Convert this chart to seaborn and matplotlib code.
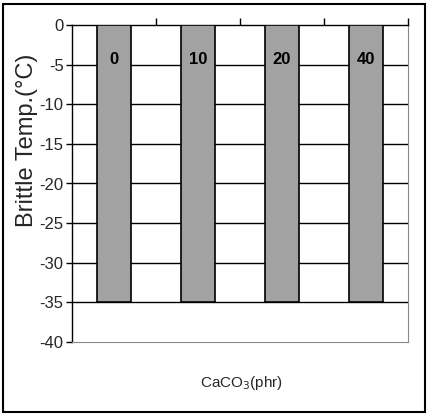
import matplotlib
matplotlib.use("Agg")
import matplotlib.pyplot as plt
import seaborn as sns
import pandas as pd
from matplotlib.patches import Rectangle

categories = ["0", "10", "20", "40"]
brittle_temp = [-35, -35, -35, -35]
yticks = [0, -5, -10, -15, -20, -25, -30, -35, -40]

sns.set_style("white")
plt.rcParams["font.family"] = ["Liberation Sans", "DejaVu Sans"]
plt.rcParams["axes.unicode_minus"] = False

df = pd.DataFrame({"CaCO3": categories, "temp": brittle_temp})

fig = plt.figure(figsize=(4.29, 4.15), dpi=100)
ax = fig.add_axes([72 / 429, 1 - 342 / 415, 336 / 429, 317 / 415])

sns.barplot(data=df, x="CaCO3", y="temp", color="#a2a2a2", width=0.4,
            edgecolor="black", linewidth=1.2, saturation=1, ax=ax, zorder=3)

ax.set_ylim(-40, 0)
ax.set_xlim(-0.5, len(categories) - 0.5)
ax.set_yticks(yticks)
ax.set_yticklabels([str(v) for v in yticks], fontsize=12)

# horizontal grid lines behind bars
for v in yticks[1:-1]:
    ax.axhline(v, color="black", linewidth=1.0, zorder=1)

# spines
ax.spines["left"].set_color("black")
ax.spines["left"].set_linewidth(1.0)
ax.spines["top"].set_color("black")
ax.spines["top"].set_linewidth(1.0)
ax.spines["right"].set_color("#888888")
ax.spines["right"].set_linestyle((0, (1, 1)))
ax.spines["bottom"].set_color("#888888")
ax.spines["bottom"].set_linestyle((0, (1, 1)))

# x ticks at category boundaries on top, no labels
ax.xaxis.tick_top()
ax.set_xticks([i + 0.5 for i in range(len(categories))])
ax.set_xticklabels([])
ax.tick_params(axis="x", direction="out", length=5, width=1, color="black", top=True, bottom=False)
ax.tick_params(axis="y", direction="out", length=4, width=1, color="black", left=True, pad=2)

# labels inside bars
for i, c in enumerate(categories):
    ax.text(i, -4.4, c, ha="center", va="center", fontsize=12,
            fontweight="bold", color="black", zorder=4)

ax.set_xlabel("")
ax.set_ylabel("Brittle Temp.(°C)", fontsize=17)
ax.yaxis.set_label_coords(-0.101, 0.635)

fig.text(242 / 429, 1 - 383 / 415, "CaCO$_3$(phr)", ha="center", va="center", fontsize=11)

# outer frame
fig.patches.append(Rectangle((3 / 429, 3 / 415), 422 / 429, 408 / 415,
                             transform=fig.transFigure, fill=False,
                             edgecolor="black", linewidth=1.5))

fig.savefig("out.png", dpi=100)
